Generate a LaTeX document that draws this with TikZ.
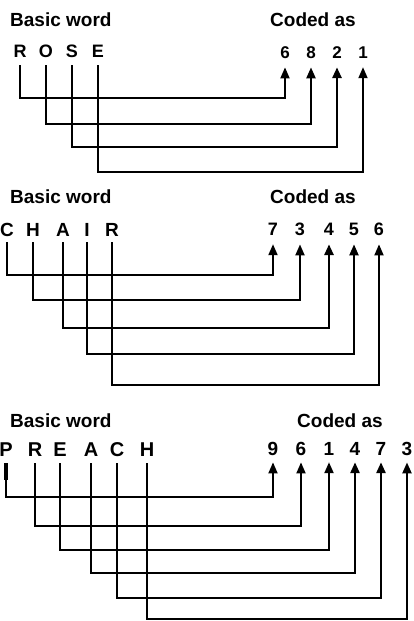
\documentclass[tikz,border=0pt]{standalone}
\usepackage{fontspec}
\setmainfont{Liberation Sans}
\usetikzlibrary{arrows.meta}
\begin{document}
\begin{tikzpicture}[x=1pt,y=-1pt,
  title/.style={anchor=base west,inner sep=0pt,font=\fontsize{19}{19}\selectfont\bfseries},
  ltr/.style={anchor=base,inner sep=0pt,font=\fontsize{#1}{#1}\selectfont\bfseries},
  ltr/.default=18,
  dig/.style={anchor=base,inner sep=0pt,font=\fontsize{#1}{#1}\selectfont\bfseries},
  dig/.default=18,
  link/.style={line width=#1,-{Triangle[width=9pt,length=11pt]}},
  link/.default=1.8pt,
  g1/.style={shorten >=9pt},
  g2/.style={shorten >=9pt},
  g3/.style={shorten >=7pt}]
\useasboundingbox (0,0) rectangle (414,621);
% ---------- ROSE ----------
\node[title] (t1) at (10,27) {Basic word};
\node[title] (c1) at (270,27) {Coded as};
\node[ltr] (R1) at (20,57) {R};
\node[ltr] (O1) at (46,57) {O};
\node[ltr] (S1) at (72,57) {S};
\node[ltr] (E1) at (98,57) {E};
\node[dig=17] (d16) at (285,58) {6};
\node[dig=17] (d18) at (311,58) {8};
\node[dig=17] (d12) at (337,58) {2};
\node[dig=17] (d11) at (363,58) {1};
\draw[link,g1] ([yshift=-8pt]R1.south) -- (R1.south |- 0,98) -| (d16.south);
\draw[link=2.3pt,g1] ([yshift=-8pt]O1.south) -- (O1.south |- 0,124) -| (d18.south);
\draw[link=2.8pt,g1] ([yshift=-8pt]S1.south) -- (S1.south |- 0,147) -| (d12.south);
\draw[link,g1] ([yshift=-8pt]E1.south) -- (E1.south |- 0,172) -| (d11.south);
% ---------- CHAIR ----------
\node[title] (t2) at (10,203) {Basic word};
\node[title] (c2) at (270,203) {Coded as};
\node[ltr=19] (C2) at (7,236) {C};
\node[ltr=19] (H2) at (33,236) {H};
\node[ltr=19] (A2) at (63,236) {A};
\node[ltr=19] (I2) at (87,236) {I};
\node[ltr=19] (R2) at (112,236) {R};
\node[dig] (d27) at (273,235) {7};
\node[dig] (d23) at (300,235) {3};
\node[dig] (d24) at (329,235) {4};
\node[dig] (d25) at (354,235) {5};
\node[dig] (d26) at (379,235) {6};
\draw[link=2pt,g2] ([yshift=-6pt]C2.south) -- (C2.south |- 0,275) -| (d27.south);
\draw[link=2pt,g2] ([yshift=-6pt]H2.south) -- (H2.south |- 0,300) -| (d23.south);
\draw[link=2.8pt,g2] ([yshift=-6pt]A2.south) -- (A2.south |- 0,328) -| (d24.south);
\draw[link=2.1pt,g2] ([yshift=-6pt]I2.south) -- (I2.south |- 0,354) -| (d25.south);
\draw[link,g2] ([yshift=-6pt]R2.south) -- (R2.south |- 0,385) -| (d26.south);
% ---------- PREACH ----------
\node[title] (t3) at (10,427) {Basic word};
\node[title] (c3) at (297,427) {Coded as};
\node[ltr=20] (P3) at (6,456) {P};
\node[ltr=20] (R3) at (35,456) {R};
\node[ltr=20] (E3) at (60,456) {E};
\node[ltr=20] (A3) at (91,456) {A};
\node[ltr=20] (C3) at (117,456) {C};
\node[ltr=20] (H3) at (147,456) {H};
\node[dig=19] (d39) at (273,455) {9};
\node[dig=19] (d36) at (301,455) {6};
\node[dig=19] (d31) at (329,455) {1};
\node[dig=19] (d34) at (355,455) {4};
\node[dig=19] (d37) at (381,455) {7};
\node[dig=19] (d33) at (407,455) {3};
\draw[link,g3] ([yshift=-7pt]P3.south) -- (P3.south |- 0,497) -| (d39.south);
\draw[line width=4pt] ([yshift=-7pt]P3.south) -- ([yshift=-24pt]P3.south);
\draw[link,g3] ([yshift=-7pt]R3.south) -- (R3.south |- 0,526) -| (d36.south);
\draw[link=2.1pt,g3] ([yshift=-7pt]E3.south) -- (E3.south |- 0,550) -| (d31.south);
\draw[link=2.6pt,g3] ([yshift=-7pt]A3.south) -- (A3.south |- 0,573) -| (d34.south);
\draw[link=2.6pt,g3] ([yshift=-7pt]C3.south) -- (C3.south |- 0,598) -| (d37.south);
\draw[link=2.3pt,g3] ([yshift=-7pt]H3.south) -- (H3.south |- 0,619) -| (d33.south);
\end{tikzpicture}
\end{document}
